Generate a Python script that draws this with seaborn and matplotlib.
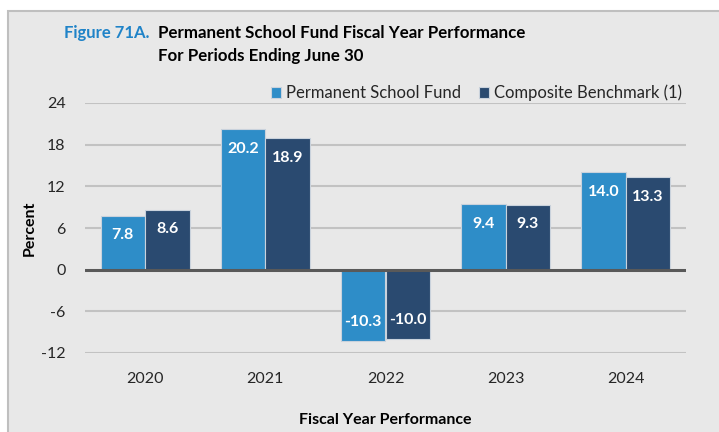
import matplotlib
matplotlib.use("Agg")
import matplotlib.pyplot as plt
import matplotlib.patches as mpatches
import pandas as pd
import seaborn as sns

YEARS = ["2020", "2021", "2022", "2023", "2024"]
FUND = [7.8, 20.2, -10.3, 9.4, 14.0]
BENCHMARK = [8.6, 18.9, -10.0, 9.3, 13.3]
SERIES = ["Permanent School Fund", "Composite Benchmark (1)"]
Y_TICKS = [-12, -6, 0, 6, 12, 18, 24]

COLORS = ["#2e8dc8", "#2a4a70"]
BG = "#e8e8e8"

sns.set_theme(style="white")
plt.rcParams["font.family"] = ["Lato", "DejaVu Sans"]

df = pd.DataFrame({
    "year": YEARS * 2,
    "value": FUND + BENCHMARK,
    "series": [SERIES[0]] * len(YEARS) + [SERIES[1]] * len(YEARS),
})

fig = plt.figure(figsize=(7.19, 4.32), dpi=100)
fig.patch.set_facecolor("white")
# grey panel with a border on the top and left, as in the source
fig.patches.append(mpatches.Rectangle(
    (8 / 719, -0.01), 1.0, 1 - 11 / 432 + 0.01, transform=fig.transFigure,
    facecolor=BG, edgecolor="#bfbfbf", linewidth=1.5, zorder=-1))

ax = fig.add_axes([85 / 719, 1 - 353 / 432, (686 - 85) / 719, 250 / 432])
ax.set_facecolor(BG)
ax.patch.set_alpha(0)

sns.barplot(data=df, x="year", y="value", hue="series", palette=COLORS,
            saturation=1, width=0.74, edgecolor="#c9d2dc", linewidth=0.8,
            ax=ax, zorder=3)

ax.set_ylim(-12, 24)
ax.set_yticks(Y_TICKS)
ax.set_yticklabels([str(t) for t in Y_TICKS])
for t in Y_TICKS:
    if t == 0:
        ax.axhline(t, color="#595959", linewidth=2.2, zorder=4)
    else:
        ax.axhline(t, color="#c2c2c2", linewidth=1.5, zorder=1)

for cont in ax.containers:
    ax.bar_label(cont, fmt="%.1f", padding=-19, color="white",
                 fontsize=11.5, fontweight="bold")

for s in ax.spines.values():
    s.set_visible(False)
ax.tick_params(axis="both", length=0, labelsize=11.5, colors="#262626")
ax.tick_params(axis="x", pad=14)
ax.tick_params(axis="y", pad=14)
ax.set_xlabel("")
ax.set_ylabel("Percent", fontsize=11.5, fontweight="bold", color="black",
              labelpad=3)

fig.text(385 / 719, 1 - 420 / 432, "Fiscal Year Performance", ha="center",
         va="center", fontsize=11.5, fontweight="bold", color="black")

fig.text(64 / 719, 1 - 33 / 432, "Figure 71A.", ha="left", va="center",
         fontsize=12, fontweight="bold", color="#1f83c8")
fig.text(158 / 719, 1 - 33 / 432, "Permanent School Fund Fiscal Year Performance",
         ha="left", va="center", fontsize=12.2, fontweight="bold", color="black")
fig.text(158 / 719, 1 - 56 / 432, "For Periods Ending June 30",
         ha="left", va="center", fontsize=12.2, fontweight="bold", color="black")

handles, labels = ax.get_legend_handles_labels()
ax.legend(handles, labels, loc="center left",
          bbox_to_anchor=(256 / 719, 1 - 93 / 432), bbox_transform=fig.transFigure,
          ncol=2, frameon=False, fontsize=12, handlelength=0.6,
          handleheight=0.6, handletextpad=0.3, columnspacing=1.1,
          labelcolor="#262626")

fig.savefig("out.png", dpi=100, facecolor=fig.get_facecolor())
